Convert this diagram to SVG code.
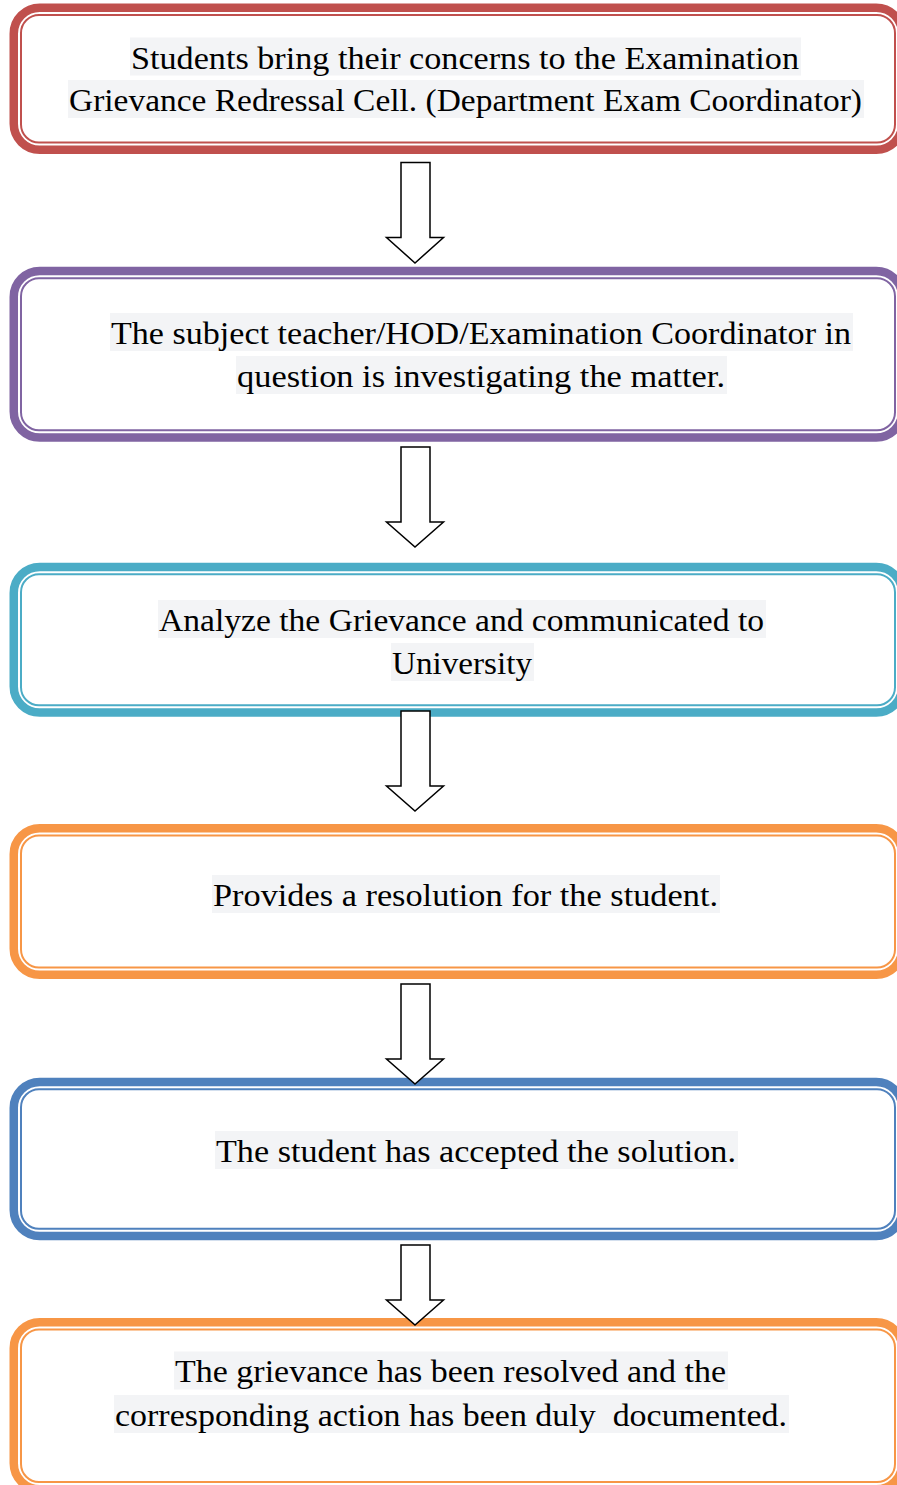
<svg xmlns="http://www.w3.org/2000/svg" width="897" height="1485" viewBox="0 0 897 1485">
<style>
.thick{fill:none;stroke-width:8.5}
.thin{fill:none;stroke-width:2}
.hl{fill:#f3f4f6}
.t{font-family:"Liberation Serif","Times New Roman",serif;font-size:32px;fill:#000}
.arrow{fill:#fff;stroke:#000;stroke-width:1.5;stroke-linejoin:miter}
</style>
<rect width="897" height="1485" fill="#fff"/>
<g id="node1">
<rect class="thick" stroke="#c0504d" x="13.75" y="7.75" width="888.5" height="142" rx="26"/>
<rect class="thin" stroke="#c0504d" x="21" y="15" width="874" height="127.5" rx="18"/>
<rect class="hl" x="130" y="37.5" width="671" height="38"/>
<rect class="hl" x="68" y="80" width="796" height="38"/>
<text class="t" x="131" y="68.5" textLength="668" lengthAdjust="spacingAndGlyphs">Students bring their concerns to the Examination</text>
<text class="t" x="69" y="111" textLength="793" lengthAdjust="spacingAndGlyphs">Grievance Redressal Cell. (Department Exam Coordinator)</text>
</g>
<g id="node2">
<rect class="thick" stroke="#8064a2" x="13.75" y="271" width="888.5" height="166.5" rx="26"/>
<rect class="thin" stroke="#8064a2" x="21" y="278.2" width="874" height="152" rx="18"/>
<rect class="hl" x="110" y="313" width="743" height="38"/>
<rect class="hl" x="236" y="356" width="491" height="38"/>
<text class="t" x="111" y="344" textLength="740" lengthAdjust="spacingAndGlyphs">The subject teacher/HOD/Examination Coordinator in</text>
<text class="t" x="237" y="387" textLength="488" lengthAdjust="spacingAndGlyphs">question is investigating the matter.</text>
</g>
<g id="node3">
<rect class="thick" stroke="#4bacc6" x="13.75" y="567" width="888.5" height="145.5" rx="26"/>
<rect class="thin" stroke="#4bacc6" x="21" y="574.2" width="874" height="131" rx="18"/>
<rect class="hl" x="158" y="600" width="608" height="38"/>
<rect class="hl" x="391" y="643" width="143" height="38"/>
<text class="t" x="159" y="631" textLength="605" lengthAdjust="spacingAndGlyphs">Analyze the Grievance and communicated to</text>
<text class="t" x="392" y="674" textLength="140" lengthAdjust="spacingAndGlyphs">University</text>
</g>
<g id="node4">
<rect class="thick" stroke="#f79646" x="13.75" y="828.25" width="888.5" height="146.5" rx="26"/>
<rect class="thin" stroke="#f79646" x="21" y="835.5" width="874" height="132" rx="18"/>
<rect class="hl" x="212" y="875" width="508" height="38"/>
<text class="t" x="213" y="906" textLength="505" lengthAdjust="spacingAndGlyphs">Provides a resolution for the student.</text>
</g>
<g id="node5">
<rect class="thick" stroke="#4f81bd" x="13.75" y="1082" width="888.5" height="154" rx="26"/>
<rect class="thin" stroke="#4f81bd" x="21" y="1089.2" width="874" height="139.5" rx="18"/>
<rect class="hl" x="215" y="1131" width="523" height="38"/>
<text class="t" x="216" y="1162" textLength="520" lengthAdjust="spacingAndGlyphs">The student has accepted the solution.</text>
</g>
<g id="node6">
<rect class="thick" stroke="#f79646" x="13.75" y="1322.25" width="888.5" height="167" rx="26"/>
<rect class="thin" stroke="#f79646" x="21" y="1329.5" width="874" height="152.5" rx="18"/>
<rect class="hl" x="174" y="1351.5" width="554" height="38"/>
<rect class="hl" x="114" y="1395" width="675" height="38"/>
<text class="t" x="175" y="1382" textLength="551" lengthAdjust="spacingAndGlyphs">The grievance has been resolved and the</text>
<text class="t" x="115" y="1425.5" textLength="672" lengthAdjust="spacingAndGlyphs" style="white-space:pre">corresponding action has been duly  documented.</text>
</g>
<g id="connectors">
<polygon class="arrow" points="401,162.5 430,162.5 430,237.5 443.5,237.5 415,263 386.5,237.5 401,237.5"/>
<polygon class="arrow" points="401,447 430,447 430,522 443.5,522 415,547 386.5,522 401,522"/>
<polygon class="arrow" points="401,711 430,711 430,786 443.5,786 415,811 386.5,786 401,786"/>
<polygon class="arrow" points="401,984 430,984 430,1059 443.5,1059 415,1084 386.5,1059 401,1059"/>
<polygon class="arrow" points="401,1245 430,1245 430,1300 443.5,1300 415,1325 386.5,1300 401,1300"/>
</g>
</svg>
